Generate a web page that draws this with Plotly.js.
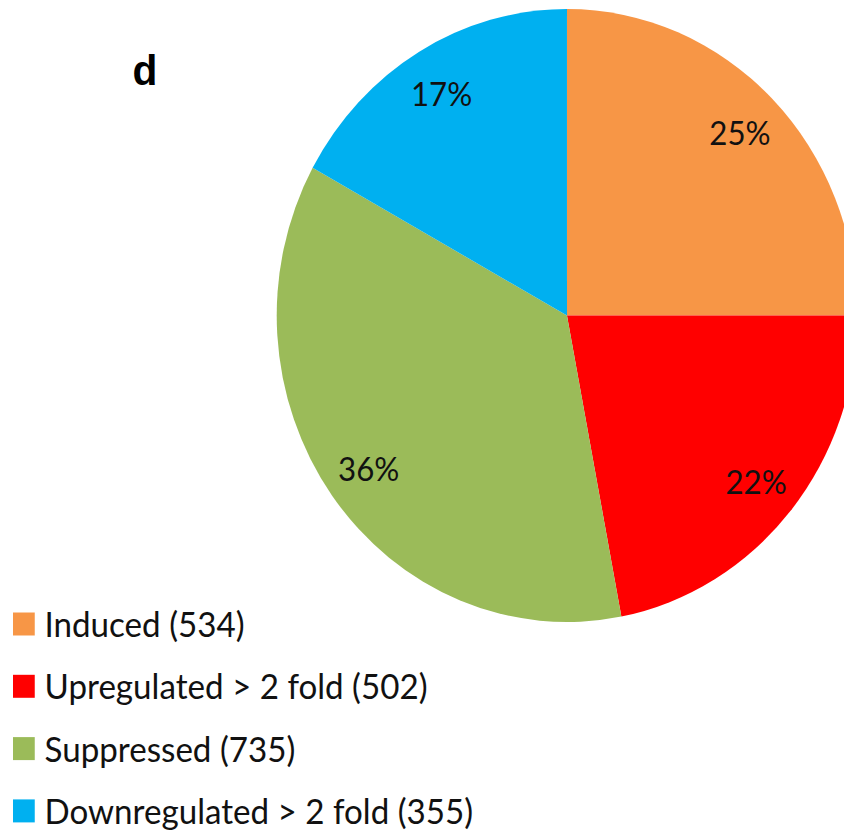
<!DOCTYPE html>
<html>
<head>
<meta charset="utf-8">
<script src="https://cdn.plot.ly/plotly-3.0.1.min.js"></script>
<style>
  html, body { margin: 0; padding: 0; background: #fff; overflow: hidden; }
  #chart { width: 920px; height: 832px; transform: scaleX(0.947); transform-origin: 0 0; }
</style>
</head>
<body>
<div id="chart"></div>
<script>
// Gene regulation categories, gene counts and slice shares (%)
const categories = ['Induced', 'Upregulated > 2 fold', 'Suppressed', 'Downregulated > 2 fold'];
const geneCounts = [534, 502, 735, 355];
const sharePercent = [25, 22, 36, 17];
const sliceColors = ['#F79646', '#FF0000', '#9BBB59', '#00B0F0'];
const panelLetter = 'd';

const W = 920, H = 832;
const cx = 598.7, cy = 315.5, R = 306.5;   // pie centre / radius in layout px
const labelRadius = 0.845;                  // share labels sit near the outer rim

const pie = {
  type: 'pie',
  values: sharePercent,
  labels: categories,
  marker: { colors: sliceColors, line: { width: 0 } },
  sort: false,
  direction: 'clockwise',
  rotation: 0,
  textinfo: 'none',
  hoverinfo: 'skip',
  showlegend: false,
  domain: {
    x: [(cx - R) / W, (cx + R) / W],
    y: [(H - cy - R) / H, (H - cy + R) / H]
  }
};

const annotations = [];
const shapes = [];

// percentage labels at each slice's mid-angle
const total = sharePercent.reduce((a, b) => a + b, 0);
let cum = 0;
sharePercent.forEach((v, i) => {
  const a = 2 * Math.PI * (cum + v / 2) / total;
  cum += v;
  const px = cx + labelRadius * R * Math.sin(a);
  const py = cy - labelRadius * R * Math.cos(a);
  annotations.push({
    xref: 'paper', yref: 'paper', x: px / W, y: 1 - py / H,
    xanchor: 'center', yanchor: 'middle', showarrow: false,
    text: v + '%',
    font: { family: 'Lato, sans-serif', size: 33, color: '#111' }
  });
});

// legend: coloured squares with category name and gene count
const rowTop = 624, rowGap = 62.3, box = 23;
categories.forEach((c, i) => {
  const yc = rowTop + i * rowGap;
  shapes.push({
    type: 'rect', xref: 'paper', yref: 'paper',
    x0: 13.7 / W, x1: (13.7 + box) / W,
    y0: 1 - (yc + box / 2) / H, y1: 1 - (yc - box / 2) / H,
    fillcolor: sliceColors[i], line: { width: 0 }
  });
  annotations.push({
    xref: 'paper', yref: 'paper', x: 45 / W, y: 1 - (yc - 0.5) / H,
    xanchor: 'left', yanchor: 'middle', showarrow: false,
    height: 41, valign: 'middle',
    text: c + ' (' + geneCounts[i] + ')',
    font: { family: 'Lato, sans-serif', size: 35, color: '#111' }
  });
});

// panel letter
annotations.push({
  xref: 'paper', yref: 'paper', x: 153 / W, y: 1 - 70 / H,
  xanchor: 'center', yanchor: 'middle', showarrow: false,
  text: '<b>' + panelLetter + '</b>',
  font: { family: 'Liberation Sans, Arial, sans-serif', size: 43, color: '#000' }
});

const layout = {
  width: W, height: H,
  margin: { l: 0, r: 0, t: 0, b: 0 },
  paper_bgcolor: '#fff',
  showlegend: false,
  annotations: annotations,
  shapes: shapes
};

Plotly.newPlot('chart', [pie], layout, { displayModeBar: false, staticPlot: true });
</script>
</body>
</html>
